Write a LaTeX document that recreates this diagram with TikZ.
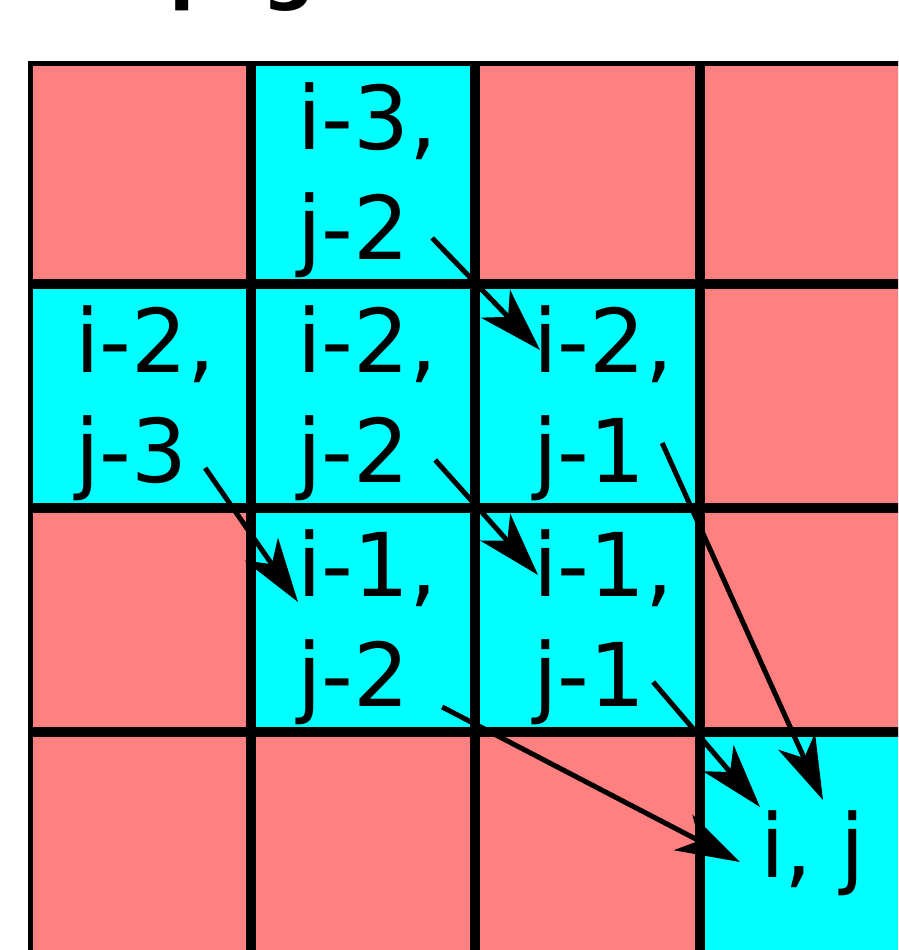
\documentclass[tikz,border=0pt]{standalone}
\usepackage{fontspec}
\setmainfont{DejaVu Sans}
\usetikzlibrary{arrows.meta}
\definecolor{cellred}{RGB}{255,128,128}
\definecolor{cellcyan}{RGB}{0,255,255}
\begin{document}
\begin{tikzpicture}[x=1pt,y=-1pt,
  lbl/.style={anchor=base west, inner sep=0pt, outer sep=0pt, font=\fontsize{88}{100}\selectfont},
  ttl/.style={anchor=base west, inner sep=0pt, outer sep=0pt, font=\fontsize{74}{80}\selectfont\bfseries},
  arr/.style={line width=5pt, -{Stealth[length=64pt,width=40pt,inset=18pt]}},
  gridline/.style={line width=10pt},
  border/.style={line width=5pt}]
\useasboundingbox (0,0) rectangle (898,950);
\clip (0,0) rectangle (898,950);
% cells
\fill[cellred] (28,61) rectangle (924,956);
\fill[cellcyan] (251,61) rectangle (475,284);
\fill[cellcyan] (28,284) rectangle (700,508);
\fill[cellcyan] (251,508) rectangle (700,732);
\fill[cellcyan] (700,732) rectangle (924,956);
% grid
\draw[border] (30.5,63.5) rectangle (921.5,953.5);
\foreach \gx in {251,475,700} \draw[gridline] (\gx,61) -- (\gx,956);
\foreach \gy in {284,508,732} \draw[gridline] (28,\gy) -- (924,\gy);
% title (cut off at the top edge)
\node[ttl] (tp) at (169,-4) {p};
\node[ttl] (tg) at (262,-4) {g};
% labels
\node[lbl] (a12) at (297,149) {i-3,};
\node[lbl] (b12) at (297,259) {j-2};
\node[lbl] (a21) at (75,372) {i-2,};
\node[lbl] (b21) at (75,482) {j-3};
\node[lbl] (a22) at (297,372) {i-2,};
\node[lbl] (b22) at (297,482) {j-2};
\node[lbl] (a23) at (533,372) {i-2,};
\node[lbl] (b23) at (533,482) {j-1};
\node[lbl] (a32) at (297,596) {i-1,};
\node[lbl] (b32) at (297,706) {j-2};
\node[lbl] (a33) at (533,596) {i-1,};
\node[lbl] (b33) at (533,706) {j-1};
\node[lbl] (a44) at (760,877) {i, j};
% arrows
\draw[arr] ([shift={(23pt,21pt)}]b12.base east) -- ([shift={(7pt,22pt)}]a23.base west);
\draw[arr] ([shift={(18pt,14pt)}]b21.base east) -- ([shift={(1pt,-6pt)}]a32.base west);
\draw[arr] ([shift={(26pt,22pt)}]b22.base east) -- ([shift={(5pt,21pt)}]a33.base west);
\draw[arr] ([shift={(17pt,39pt)}]b23.base east) -- ([shift={(63pt,77pt)}]a44.base west);
\draw[arr] ([shift={(8pt,24pt)}]b33.base east) -- ([shift={(0pt,70pt)}]a44.base west);
\draw[arr] ([shift={(33pt,-1pt)}]b32.base east) -- ([shift={(-20pt,15pt)}]a44.base west);
\end{tikzpicture}
\end{document}
